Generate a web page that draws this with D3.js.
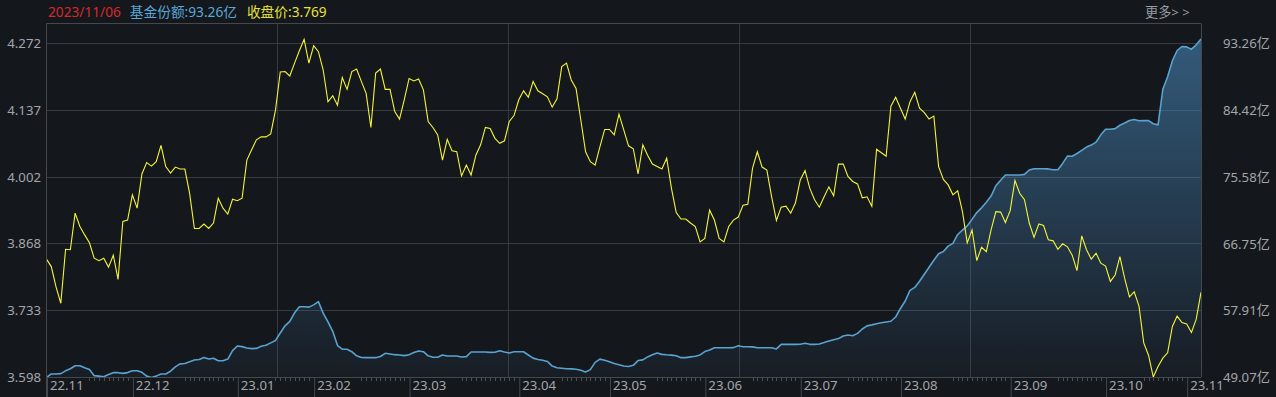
<!DOCTYPE html>
<html><head><meta charset="utf-8">
<script src="https://cdn.jsdelivr.net/npm/d3@7"></script>
<style>
html,body{margin:0;padding:0;background:#14171c;overflow:hidden;}
svg{display:block;font-family:"Noto Sans","Noto Sans CJK SC",sans-serif;}
</style></head><body>
<svg id="c" width="1276" height="397"></svg>
<script>
// ---------------- data ----------------
const monthLabels = ["22.11","22.12","23.01","23.02","23.03","23.04","23.05","23.06","23.07","23.08","23.09","23.10","23.11"];
const monthStarts = [0,18,40,56,76,99,118,138,158,179,202,222,239];
const priceTicks = [3.598,3.733,3.868,4.002,4.137,4.272];
const shareTicks = [49.07,57.91,66.75,75.58,84.42,93.26];
const headerDate = "2023/11/06";
const headerShare = "基金份额:93.26亿";
const headerPrice = "收盘价:3.769";
const moreText = "更多> >";

const price = [
3.836,3.821,3.780,3.747,3.856,3.855,3.929,3.902,3.885,3.869,
3.838,3.833,3.838,3.820,3.844,3.795,3.912,3.915,3.966,3.939,
4.008,4.031,4.024,4.033,4.066,4.023,4.010,4.022,4.018,4.018,
3.969,3.898,3.898,3.907,3.898,3.909,3.959,3.939,3.927,3.957,
3.954,3.959,4.036,4.057,4.077,4.083,4.083,4.089,4.137,4.214,
4.215,4.206,4.232,4.257,4.280,4.232,4.267,4.255,4.218,4.154,
4.166,4.147,4.203,4.179,4.215,4.220,4.195,4.171,4.102,4.212,
4.220,4.179,4.179,4.134,4.119,4.158,4.201,4.196,4.200,4.178,
4.114,4.102,4.087,4.036,4.078,4.055,4.053,4.004,4.026,4.006,
4.046,4.067,4.102,4.100,4.080,4.070,4.075,4.114,4.126,4.158,
4.176,4.163,4.195,4.176,4.170,4.164,4.143,4.160,4.225,4.232,
4.198,4.181,4.117,4.053,4.033,4.026,4.063,4.098,4.098,4.087,
4.129,4.097,4.065,4.059,4.008,4.067,4.046,4.028,4.023,4.018,
4.040,3.979,3.930,3.917,3.917,3.909,3.902,3.871,3.878,3.935,
3.915,3.878,3.871,3.902,3.915,3.921,3.945,3.947,4.020,4.053,
4.022,4.016,3.962,3.914,3.941,3.943,3.929,3.950,3.996,4.015,
3.979,3.956,3.941,3.962,3.982,3.964,4.028,4.028,4.003,3.993,
3.988,3.960,3.962,3.943,4.058,4.051,4.044,4.145,4.163,4.141,
4.119,4.154,4.173,4.141,4.132,4.119,4.125,4.023,3.997,3.986,
3.966,3.974,3.932,3.869,3.895,3.833,3.860,3.851,3.895,3.932,
3.931,3.910,3.934,3.995,3.969,3.956,3.909,3.880,3.907,3.904,
3.875,3.873,3.856,3.867,3.861,3.844,3.813,3.883,3.855,3.836,
3.848,3.828,3.822,3.791,3.804,3.841,3.797,3.760,3.770,3.741,
3.667,3.642,3.598,3.619,3.636,3.647,3.700,3.721,3.708,3.705,
3.688,3.715,3.769];

const shares = [
49.07,49.53,49.53,49.58,49.94,50.21,50.60,50.61,50.34,50.10,
49.31,49.25,49.16,49.45,49.70,49.70,49.61,49.71,49.96,49.96,
49.74,49.25,49.08,49.25,49.53,49.53,49.89,50.45,50.85,50.90,
51.12,51.36,51.41,51.68,51.49,51.58,51.26,51.26,51.47,52.58,
53.18,53.10,52.92,52.84,52.87,53.14,53.29,53.59,53.91,54.88,
55.82,56.39,57.52,58.31,58.30,58.26,58.55,58.97,57.46,56.34,
55.10,53.24,52.78,52.75,52.44,51.90,51.68,51.66,51.66,51.66,
51.81,52.23,52.14,52.05,52.01,51.93,52.05,52.32,52.53,52.44,
51.90,51.72,51.72,52.01,51.88,51.88,51.88,51.75,51.79,52.40,
52.40,52.40,52.40,52.35,52.37,52.56,52.39,52.27,52.44,52.44,
52.43,52.01,51.60,51.43,51.32,51.17,50.56,50.35,50.28,50.22,
50.19,50.15,50.01,49.80,50.10,51.04,51.47,51.33,51.13,50.90,
50.74,50.57,50.51,50.66,51.28,51.37,51.76,52.03,52.26,52.09,
52.03,51.99,51.90,51.66,51.66,51.76,51.84,52.02,52.46,52.67,
52.96,52.96,52.96,52.96,52.97,53.22,53.09,53.09,53.07,52.96,
52.96,52.96,52.96,52.80,53.40,53.40,53.40,53.40,53.42,53.54,
53.40,53.40,53.44,53.63,53.84,53.99,54.15,54.49,54.61,54.53,
54.83,55.40,55.81,55.94,56.09,56.21,56.32,56.41,56.97,58.08,
59.06,60.45,60.83,61.64,62.54,63.46,64.37,65.22,65.51,66.22,
66.58,67.74,68.31,68.86,69.71,70.60,71.22,71.96,72.75,74.10,
74.83,75.51,75.51,75.51,75.51,75.59,76.16,76.33,76.33,76.33,
76.30,76.19,76.20,77.02,77.97,77.95,78.31,78.73,79.15,79.41,
79.80,80.75,81.47,81.47,81.56,82.00,82.30,82.63,82.74,82.58,
82.61,82.61,82.20,82.05,86.70,88.33,90.42,91.76,92.28,92.23,
91.93,92.50,93.26];

// ---------------- layout ----------------
const W = 1276, H = 397;
const L = 46.5, R = 1201, T = 23.5, B = 377;
const svg = d3.select("#c");

const x = d3.scaleLinear().domain([0, price.length - 1]).range([L, R]);
const yP = d3.scaleLinear().domain([priceTicks[0], priceTicks[priceTicks.length-1]]).range([B, 43.3]);
const yS = d3.scaleLinear().domain([shareTicks[0], shareTicks[shareTicks.length-1]]).range([377.5, 39]);
const yR = d3.scaleLinear().domain([shareTicks[0], shareTicks[shareTicks.length-1]]).range([B, 43.3]);
const gridX = d3.scaleLinear().domain([0, 5]).range([L, R]);

const gridColor = "#36393e";
const borderColor = "#44474c";
const textColor = "#a3a6aa";
const FONT = '"Noto Sans","Noto Sans CJK SC",sans-serif';

// defs
const defs = svg.append("defs");
const grad = defs.append("linearGradient").attr("id","ag")
  .attr("gradientUnits","userSpaceOnUse").attr("x1",0).attr("x2",0).attr("y1",T).attr("y2",B);
grad.append("stop").attr("offset","0%").attr("stop-color","#4a8cc0").attr("stop-opacity",0.6);
grad.append("stop").attr("offset","100%").attr("stop-color","#4a8cc0").attr("stop-opacity",0.05);
defs.append("clipPath").attr("id","clip").append("rect")
  .attr("x",L).attr("y",T).attr("width",R-L).attr("height",B-T+1);

// horizontal grid
svg.append("g").selectAll("line").data(priceTicks.slice(1)).join("line")
  .attr("x1",L).attr("x2",R)
  .attr("y1",d=>Math.round(yP(d))+0.5).attr("y2",d=>Math.round(yP(d))+0.5)
  .attr("stroke",gridColor).attr("stroke-width",1);
// vertical grid
svg.append("g").selectAll("line").data([1,2,3,4]).join("line")
  .attr("x1",d=>Math.round(gridX(d))+0.5).attr("x2",d=>Math.round(gridX(d))+0.5)
  .attr("y1",T).attr("y2",B)
  .attr("stroke",gridColor).attr("stroke-width",1);

// area + blue line
const plot = svg.append("g").attr("clip-path","url(#clip)");
plot.append("path").datum(shares)
  .attr("d", d3.area().x((d,i)=>x(i)).y0(B).y1(d=>yS(d)))
  .attr("fill","url(#ag)");
plot.append("path").datum(shares)
  .attr("d", d3.line().x((d,i)=>x(i)).y(d=>yS(d)))
  .attr("fill","none").attr("stroke","#5aa2cf").attr("stroke-width",1.6)
  .attr("stroke-linejoin","round");
// yellow price line
plot.append("path").datum(price)
  .attr("d", d3.line().x((d,i)=>x(i)).y(d=>yP(d)))
  .attr("fill","none").attr("stroke","#f5f53a").attr("stroke-width",1.1)
  .attr("stroke-linejoin","miter");

// borders
svg.append("line").attr("x1",L).attr("x2",R).attr("y1",T).attr("y2",T).attr("stroke",borderColor);
svg.append("line").attr("x1",R+0.5).attr("x2",R+0.5).attr("y1",T).attr("y2",B).attr("stroke",borderColor);
svg.append("line").attr("x1",L).attr("x2",L).attr("y1",T).attr("y2",H).attr("stroke",borderColor);
svg.append("line").attr("x1",L).attr("x2",R).attr("y1",B+0.5).attr("y2",B+0.5).attr("stroke",borderColor);

// left axis
const la = svg.append("g").attr("transform",`translate(${L-5.5},0)`)
  .call(d3.axisLeft(yP).tickValues(priceTicks).tickFormat(d3.format(".3f")).tickSize(0).tickPadding(0));
la.select(".domain").remove();
la.selectAll("text").attr("fill",textColor).attr("font-size",13.2)
  .attr("font-family",FONT).attr("dy","0.35em");

// right axis
const ra = svg.append("g").attr("transform",`translate(1223,0)`)
  .call(d3.axisRight(yR).tickValues(shareTicks).tickFormat(d=>d.toFixed(2)+"亿").tickSize(0).tickPadding(0));
ra.select(".domain").remove();
ra.selectAll("text").attr("fill",textColor).attr("font-size",13.2)
  .attr("font-family",FONT).attr("dy","0.35em");

// bottom axis: month starts
const ba = svg.append("g").attr("transform",`translate(0,${B})`)
  .call(d3.axisBottom(x).tickValues(monthStarts).tickSize(20).tickFormat((d,i)=>monthLabels[i]));
ba.select(".domain").remove();
ba.selectAll(".tick line").attr("stroke",borderColor).attr("transform","translate(0.5,0)");
ba.selectAll("text").attr("fill",textColor).attr("font-size",13.2)
  .attr("font-family",FONT)
  .attr("text-anchor","start").attr("x",3).attr("y",4).attr("dy","0.71em");

// minor ticks (second half of each month)
const minor = [];
monthStarts.forEach((s,k)=>{
  if (k+1>=monthStarts.length) return;
  const e = monthStarts[k+1];
  for (let i = s + Math.floor((e-s)/2); i < e; i++) minor.push(i);
});
svg.append("g").selectAll("line").data(minor).join("line")
  .attr("x1",d=>Math.round(x(d))+0.5).attr("x2",d=>Math.round(x(d))+0.5)
  .attr("y1",B+1).attr("y2",B+4).attr("stroke","#4a4d52");

// header
const hdr = svg.append("text").attr("x",48).attr("y",16.5).attr("font-size",13.7);
hdr.append("tspan").attr("fill","#d42a2a").text(headerDate);
hdr.append("tspan").attr("dx",9).attr("fill","#5aa8d8").text(headerShare);
hdr.append("tspan").attr("dx",10).attr("fill","#e6e23a").text(headerPrice);
svg.append("text").attr("x",1145).attr("y",16.5).attr("font-size",13.2)
  .attr("fill","#9a9da1").text(moreText);
</script>
</body></html>
